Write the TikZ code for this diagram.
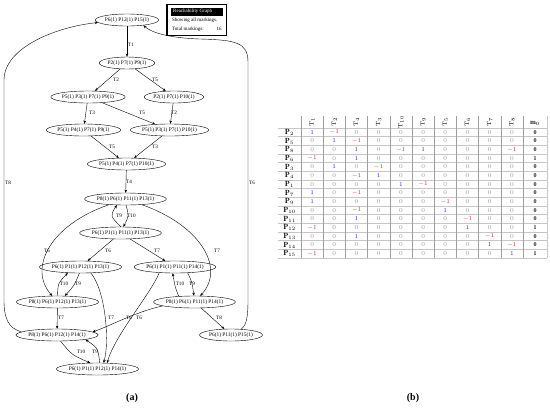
\documentclass[tikz,border=0pt]{standalone}
\usepackage{fontspec}
\newfontfamily\gfont{Liberation Serif}
\usetikzlibrary{shapes.geometric,arrows.meta}
\definecolor{vblue}{RGB}{40,40,215}
\definecolor{vred}{RGB}{200,50,50}
\definecolor{vgray}{RGB}{150,150,150}
\newcommand\cv[1]{\ifnum#1=1 \textcolor{vblue}{$1$}\else\ifnum#1=0 \textcolor{vgray}{$0$}\else\textcolor{vred}{$-1$}\fi\fi}
\newcommand\tabrow[4]{%
  \pgfmathsetmacro\ry{128+(#1-0.5)*8.667}%
  \node[rowlab] (r#1) at (289.5,\ry) {$\mathbf{P}_{#2}$};%
  \foreach \v [count=\c] in {#3} {%
    \pgfmathsetmacro\cx{301+(\c-0.5)*22.2}%
    \node[cell] (v#1x\c) at (\cx,\ry) {\cv{\v}};}%
  \node[cell] (m#1) at (535,\ry) {$\mathbf{#4}$};%
}
\begin{document}
\begin{tikzpicture}[x=1pt,y=-1pt,
  st/.style={ellipse,draw,line width=0.4pt,inner xsep=0.3pt,inner ysep=0.6pt,minimum height=12pt,font=\gfont\fontsize{5.4}{6}\selectfont},
  ed/.style={draw,line width=0.4pt,-{Stealth[length=3.2pt,width=2.6pt]}},
  lb/.style={font=\gfont\fontsize{5.2}{5}\selectfont,inner sep=0pt},
  lg/.style={font=\gfont\fontsize{5}{5}\selectfont,inner sep=0pt,anchor=west},
  cell/.style={font=\fontsize{6}{6}\selectfont,inner sep=0pt},
  rowlab/.style={font=\fontsize{7.5}{8}\selectfont,inner sep=0pt},
  hl/.style={draw=gray!45,line width=0.6pt},
  vl/.style={draw=gray!75,line width=0.6pt},
  captxt/.style={font=\gfont\bfseries\fontsize{10}{12}\selectfont,inner sep=0pt}]
\useasboundingbox (0,0) rectangle (550,408);
% ---------- graph nodes
\node[st] (n1) at (127,20) {P6(1) P12(1) P15(1)};
\node[st] (n2) at (127,63) {P2(1) P7(1) P9(1)};
\node[st] (n3) at (88,97) {P5(1) P3(1) P7(1) P9(1)};
\node[st] (n4) at (174,97) {P2(1) P7(1) P10(1)};
\node[st] (n5) at (83.5,130) {P5(1) P4(1) P7(1) P9(1)};
\node[st] (n6) at (169.5,130) {P5(1) P3(1) P7(1) P10(1)};
\node[st] (n7) at (126.5,164) {P5(1) P4(1) P7(1) P10(1)};
\node[st] (n8) at (125.5,199) {P8(1) P6(1) P11(1) P13(1)};
\node[st] (n9) at (120.5,233) {P6(1) P1(1) P11(1) P13(1)};
\node[st] (n10) at (80.5,267) {P6(1) P1(1) P12(1) P13(1)};
\node[st] (n11) at (175,267) {P6(1) P1(1) P11(1) P14(1)};
\node[st] (n12) at (57.5,302) {P8(1) P6(1) P12(1) P13(1)};
\node[st] (n13) at (194.5,302) {P8(1) P6(1) P11(1) P14(1)};
\node[st] (n14) at (57,335) {P8(1) P6(1) P12(1) P14(1)};
\node[st] (n15) at (231,335) {P6(1) P11(1) P15(1)};
\node[st] (n16) at (97.5,369) {P6(1) P1(1) P12(1) P14(1)};
% ---------- legend
\draw[line width=1.3pt] (167,4.5) rectangle (226.5,35.5);
\fill[black] (170.5,8) rectangle (223,15.5);
\node[lg,text=white,font=\gfont\fontsize{5}{5}\selectfont] (lgt) at (173,11.8) {Reachability Graph};
\node[lg] (lg1) at (172,20.5) {Showing all markings.};
\node[lg] (lg2) at (172,29) {Total markings:};
\node[lg] (lg3) at (216.5,29) {16};
% ---------- edges
\draw[ed] (n1) -- (n2);
\draw[ed] (n2) -- (n3);
\draw[ed] (n2) -- (n4);
\draw[ed] (n3) -- (n5);
\draw[ed] (n3) -- (n6);
\draw[ed] (n4) -- (n6);
\draw[ed] (n5) -- (n7);
\draw[ed] (n6) -- (n7);
\draw[ed] (n7) -- (n8);
\draw[ed] (n9.85) .. controls (110,216) .. (n8.215);
\draw[ed] (n8.275) .. controls (129,216) .. (n9.65);
\draw[ed] (n8) .. controls (50,225) and (28,268) .. (n12);
\draw[ed] (n8) .. controls (200,225) and (226,268) .. (n13);
\draw[ed] (n9) -- (n10);
\draw[ed] (n9) -- (n11);
\draw[ed] (n12.90) .. controls (58,283) .. (n10.205);
\draw[ed] (n10.260) .. controls (74,286) .. (n12.40);
\draw[ed] (n13.160) .. controls (175,287) .. (n11.250);
\draw[ed] (n11.335) .. controls (192,282) .. (n13.95);
\draw[ed] (n12) -- (n14);
\draw[ed] (n10.330) .. controls (105,290) and (110,340) .. (n16.45);
\draw[ed] (n11.200) .. controls (150,295) and (115,335) .. (n16.32);
\draw[ed] (n13.187) .. controls (135,312) and (110,326) .. (n14.5);
\draw[ed] (n13) -- (n15);
\draw[ed] (n14.300) .. controls (72,355) .. (n16.140);
\draw[ed] (n16.70) .. controls (98,348) .. (n14.351);
\draw[ed] (n14.175) .. controls (8,328) and (4,318) .. (4,300) -- (4,80) .. controls (4,48) and (55,27) .. (n1.185);
\draw[ed] (n15.30) .. controls (247,325) and (248,315) .. (248,300) -- (248,62) .. controls (248,42) and (235,40) .. (200,39) .. controls (170,38) and (152,33) .. (n1.342);
% ---------- edge labels
\node[lb] (t1) at (131,45) {T1};
\node[lb] (t2a) at (116,80) {T2};
\node[lb] (t5a) at (155,80) {T5};
\node[lb] (t3a) at (92,113) {T3};
\node[lb] (t5b) at (142,113) {T5};
\node[lb] (t2b) at (174,113) {T2};
\node[lb] (t5c) at (112,147) {T5};
\node[lb] (t3b) at (155,147) {T3};
\node[lb] (t4) at (129,182) {T4};
\node[lb] (t8l) at (8,183) {T8};
\node[lb] (t6r) at (252,183) {T6};
\node[lb] (t9a) at (119,216) {T9};
\node[lb] (t10a) at (131.5,216) {T10};
\node[lb] (t6a) at (47,251) {T6};
\node[lb] (t6b) at (108,251) {T6};
\node[lb] (t7a) at (157,251) {T7};
\node[lb] (t7b) at (217,251) {T7};
\node[lb] (t10b) at (64,284) {T10};
\node[lb] (t9b) at (78,284) {T9};
\node[lb] (t10c) at (180,284) {T10};
\node[lb] (t9c) at (192,284) {T9};
\node[lb] (t7c) at (61,318) {T7};
\node[lb] (t7d) at (111,318) {T7};
\node[lb] (t6c) at (129,318) {T6};
\node[lb] (t6d) at (139,318) {T6};
\node[lb] (t8) at (219,318) {T8};
\node[lb] (t10d) at (81,352) {T10};
\node[lb] (t9d) at (95,352) {T9};
% ---------- table
\foreach \k in {0,...,15} \draw[hl] (278,{128+\k*8.667}) -- (547,{128+\k*8.667});
\foreach \k in {0,...,10} \draw[vl] ({301+\k*22.2},116) -- ({301+\k*22.2},258);
\draw[hl] (547,116) -- (547,258);
\foreach \t [count=\c] in {1,2,4,3,10,9,5,6,7,8} {%
  \pgfmathsetmacro\cx{301+(\c-0.5)*22.2}%
  \node[cell,rotate=90] (h\c) at (\cx,122) {$\mathrm{T}_{\t}$};}
\node[cell,font=\fontsize{7}{7}\selectfont] (hm) at (535,123) {$\mathbf{m}_0$};
\tabrow{1}{2}{1,-1,0,0,0,0,0,0,0,0}{0}
\tabrow{2}{5}{0,1,-1,0,0,0,0,0,0,0}{0}
\tabrow{3}{8}{0,0,1,0,-1,1,0,0,0,-1}{0}
\tabrow{4}{6}{-1,0,1,0,0,0,0,0,0,0}{1}
\tabrow{5}{3}{0,1,0,-1,0,0,0,0,0,0}{0}
\tabrow{6}{4}{0,0,-1,1,0,0,0,0,0,0}{0}
\tabrow{7}{1}{0,0,0,0,1,-1,0,0,0,0}{0}
\tabrow{8}{7}{1,0,-1,0,0,0,0,0,0,0}{0}
\tabrow{9}{9}{1,0,0,0,0,0,-1,0,0,0}{0}
\tabrow{10}{10}{0,0,-1,0,0,0,1,0,0,0}{0}
\tabrow{11}{11}{0,0,1,0,0,0,0,-1,0,0}{0}
\tabrow{12}{12}{-1,0,0,0,0,0,0,1,0,0}{1}
\tabrow{13}{13}{0,0,1,0,0,0,0,0,-1,0}{0}
\tabrow{14}{14}{0,0,0,0,0,0,0,0,1,-1}{0}
\tabrow{15}{15}{-1,0,0,0,0,0,0,0,0,1}{1}
% ---------- captions
\node[captxt] (ca) at (132,398) {(a)};
\node[captxt] (cb) at (413,398) {(b)};
\end{tikzpicture}
\end{document}
